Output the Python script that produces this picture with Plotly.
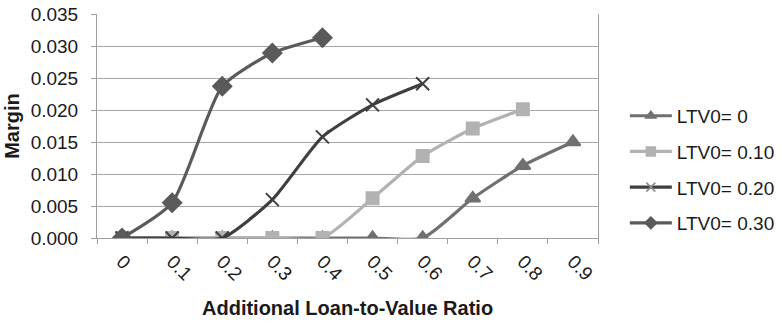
import plotly.graph_objects as go

# Additional loan-to-value ratio categories
categories = ["0", "0.1", "0.2", "0.3", "0.4", "0.5", "0.6", "0.7", "0.8", "0.9"]

# Margin for each initial LTV level
ltv_00 = [0, 0, 0, 0, 0, 0, 0, 0.0062, 0.0113, 0.0150]
ltv_10 = [0, 0, 0, 0, 0, 0.0062, 0.0128, 0.0171, 0.0201]
ltv_20 = [0, 0, 0, 0.0060, 0.0158, 0.0208, 0.0241]
ltv_30 = [0, 0.0055, 0.0237, 0.0289, 0.0313]

y_ticks = [0, 0.005, 0.010, 0.015, 0.020, 0.025, 0.030, 0.035]

# name, values, colour, marker symbol, plot marker size, legend marker size
series = [
    ("LTV0= 0", ltv_00, "#707070", "triangle-up", 13, 9),
    ("LTV0= 0.10", ltv_10, "#b2b2b2", "square", 12, 9),
    ("LTV0= 0.20", ltv_20, "#3f3f3f", "x-thin", 13, 9),
    ("LTV0= 0.30", ltv_30, "#5a5a5a", "diamond", 14, 9),
]

fig = go.Figure()
for name, vals, color, sym, size, leg_size in series:
    fig.add_trace(go.Scatter(
        x=categories[:len(vals)], y=vals, name=name, showlegend=False,
        mode="lines+markers",
        line=dict(color=color, width=3.2, shape="spline", smoothing=0.6),
        marker=dict(symbol=sym, size=size, color=color,
                    line=dict(color=color, width=2)),
    ))

# Legend entries with smaller marker glyphs
for name, vals, color, sym, size, leg_size in series:
    marker_line = "#8a8a8a" if sym == "x-thin" else color
    fig.add_trace(go.Scatter(
        x=[None], y=[None], name=name, legendgroup=name,
        mode="lines+markers",
        line=dict(color=color, width=3.2),
        marker=dict(symbol=sym, size=leg_size, color=color,
                    line=dict(color=marker_line, width=1.5)),
    ))

font = "Liberation Sans, Arial, sans-serif"
txt = "#1a1a1a"
fig.update_layout(
    width=784, height=323,
    margin=dict(l=97, r=186, t=14, b=85),
    paper_bgcolor="white", plot_bgcolor="white",
    font=dict(family=font, size=19, color=txt),
    showlegend=True,
    legend=dict(xref="container", yref="container",
                x=0.797, y=0.70, xanchor="left", yanchor="top",
                font=dict(size=19, color=txt),
                tracegroupgap=8, itemwidth=42,
                bgcolor="rgba(0,0,0,0)"),
    xaxis=dict(
        type="category", categoryorder="array", categoryarray=categories,
        range=[-0.5, 9.5], tickson="boundaries", automargin=False,
        ticks="outside", ticklen=5, tickcolor="#a0a0a0",
        showline=True, linecolor="#a0a0a0", linewidth=1,
        showgrid=False, tickangle=45, ticklabelstandoff=4,
        tickfont=dict(size=19, color=txt),
    ),
    yaxis=dict(
        range=[0, 0.035], tickvals=y_ticks, tickformat=".3f",
        automargin=False,
        ticks="outside", ticklen=5, tickcolor="#a0a0a0",
        ticklabelstandoff=9,
        showline=True, linecolor="#a0a0a0", linewidth=1, mirror=True,
        showgrid=True, gridcolor="#a8a8a8", gridwidth=1,
        zeroline=False,
        tickfont=dict(size=19, color=txt),
    ),
    annotations=[
        dict(text="<b>Additional Loan-to-Value Ratio</b>",
             xref="paper", yref="paper", x=0.5, y=-0.3125,
             xanchor="center", yanchor="middle", showarrow=False,
             font=dict(size=20, color=txt)),
        dict(text="<b>Margin</b>", textangle=-90,
             xref="paper", yref="paper", x=-0.17, y=0.5,
             xanchor="center", yanchor="middle", showarrow=False,
             font=dict(size=20, color=txt)),
    ],
)

fig.write_html("out.html")
